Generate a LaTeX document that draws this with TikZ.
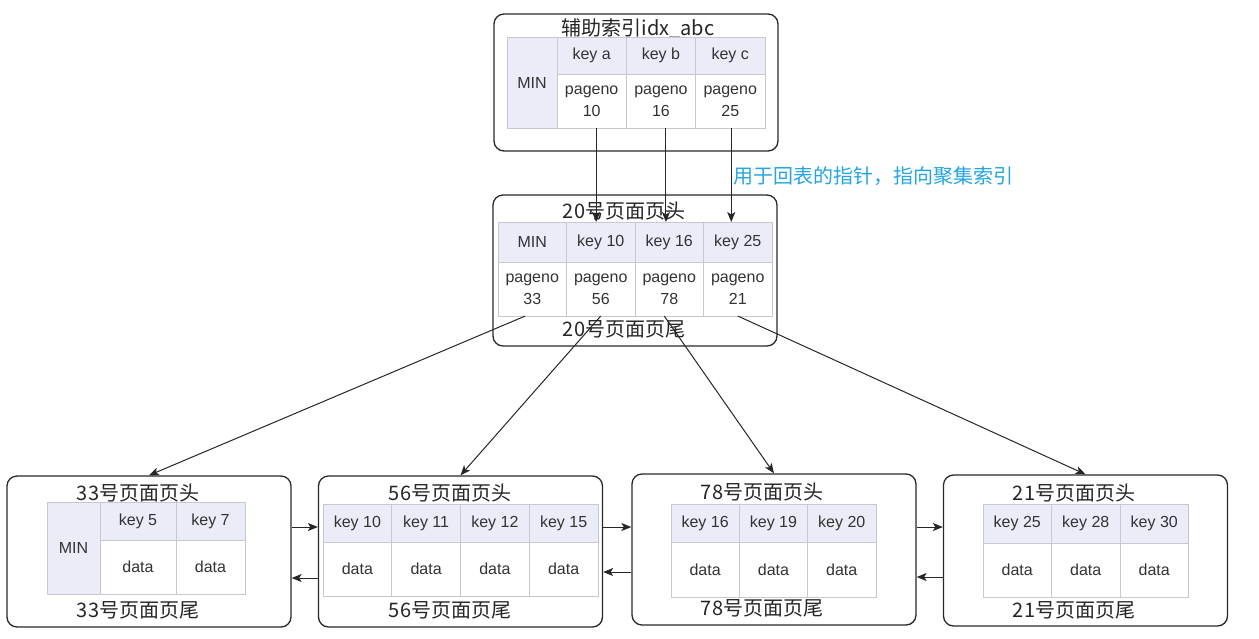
\documentclass[tikz,border=0pt]{standalone}
\usepackage{fontspec}
\setmainfont{Liberation Sans}
\newfontfamily\cjk{Noto Sans CJK SC}
\usetikzlibrary{positioning, arrows.meta}

\definecolor{cellhead}{RGB}{234,236,248}
\definecolor{cellline}{RGB}{200,200,206}
\definecolor{celltext}{RGB}{51,51,51}
\definecolor{framecol}{RGB}{40,40,40}
\definecolor{notecol}{RGB}{36,165,225}

\begin{document}
\begin{tikzpicture}[x=1pt, y=-1pt,
    pagebox/.style={draw=framecol, line width=1.3pt, rounded corners=10pt,
      minimum width=284pt, minimum height=151pt, inner sep=0pt},
    pagetitle/.style={font=\cjk\fontsize{20}{24}\selectfont, text=black!85, inner sep=0pt},
    cell/.style={draw=cellline, line width=0.8pt, inner sep=0pt, outer sep=0pt,
      minimum width=68.5pt, align=center, text=celltext, font=\fontsize{16}{22}\selectfont},
    keycell/.style={cell, fill=cellhead, minimum height=38pt},
    valcell/.style={cell, fill=white, minimum height=54pt},
    mincell/.style={cell, fill=cellhead, minimum width=53pt, minimum height=92pt},
    link/.style={-{Stealth[length=10pt, width=8pt, inset=2.5pt]}, line width=1pt, draw=black!85}]
  \useasboundingbox (0,0) rectangle (1259,638);

  % secondary index page
  \node[pagebox, minimum height=137pt] (sec) at (636,82.5) {};
  \node[pagetitle] (sechead) at (638,28) {辅助索引idx\_abc};
  \node[mincell, minimum width=50pt, minimum height=91pt, anchor=north west] (smin) at (507,37) {MIN};
  \node[keycell, minimum width=69.3pt, minimum height=37pt, anchor=north west] (ska) at (smin.north east) {key a};
  \node[keycell, minimum width=69.3pt, minimum height=37pt, right=0pt of ska] (skb) {key b};
  \node[keycell, minimum width=69.3pt, minimum height=37pt, right=0pt of skb] (skc) {key c};
  \node[valcell, minimum width=69.3pt, below=0pt of ska] (spa) {pageno\\10};
  \node[valcell, minimum width=69.3pt, below=0pt of skb] (spb) {pageno\\16};
  \node[valcell, minimum width=69.3pt, below=0pt of skc] (spc) {pageno\\25};

  % root page 20
  \node[pagebox] (root) at (635,270.5) {};
  \node[pagetitle] (roothead) at (624,211) {20号页面页头};
  \node[keycell, minimum height=40pt, anchor=north west] (rmin) at (498,222) {MIN};
  \node[keycell, minimum height=40pt, right=0pt of rmin] (rk10) {key 10};
  \node[keycell, minimum height=40pt, right=0pt of rk10] (rk16) {key 16};
  \node[keycell, minimum height=40pt, right=0pt of rk16] (rk25) {key 25};
  \node[valcell, below=0pt of rmin] (rp33) {pageno\\33};
  \node[valcell, below=0pt of rk10] (rp56) {pageno\\56};
  \node[valcell, below=0pt of rk16] (rp78) {pageno\\78};
  \node[valcell, below=0pt of rk25] (rp21) {pageno\\21};
  \node[pagetitle] (rootfoot) at (624,329) {20号页面页尾};

  \node[font=\cjk\fontsize{20}{24}\selectfont, text=notecol, anchor=west, inner sep=0pt] (note)
    at (733,176) {用于回表的指针，指向聚集索引};

  % leaf page 33
  \node[pagebox] (pg33) at (149,551.5) {};
  \node[pagetitle] (pg33head) at (138,493) {33号页面页头};
  \node[mincell, anchor=north west] (l33min) at (47,502) {MIN};
  \node[keycell, minimum width=76pt, anchor=north west] (l33k5) at (l33min.north east) {key 5};
  \node[keycell, minimum width=69pt, right=0pt of l33k5] (l33k7) {key 7};
  \node[valcell, minimum width=76pt, below=0pt of l33k5] (l33d5) {data};
  \node[valcell, minimum width=69pt, below=0pt of l33k7] (l33d7) {data};
  \node[pagetitle] (pg33foot) at (138,610) {33号页面页尾};

  % leaf page 56
  \node[pagebox] (pg56) at (460.5,551.5) {};
  \node[pagetitle] (pg56head) at (450,493) {56号页面页头};
  \node[keycell, minimum width=68.75pt, anchor=north west] (l56k10) at (323,504) {key 10};
  \node[keycell, minimum width=68.75pt, right=0pt of l56k10] (l56k11) {key 11};
  \node[keycell, minimum width=68.75pt, right=0pt of l56k11] (l56k12) {key 12};
  \node[keycell, minimum width=68.75pt, right=0pt of l56k12] (l56k15) {key 15};
  \node[valcell, minimum width=68.75pt, below=0pt of l56k10] (l56d10) {data};
  \node[valcell, minimum width=68.75pt, below=0pt of l56k11] (l56d11) {data};
  \node[valcell, minimum width=68.75pt, below=0pt of l56k12] (l56d12) {data};
  \node[valcell, minimum width=68.75pt, below=0pt of l56k15] (l56d15) {data};
  \node[pagetitle] (pg56foot) at (450,610) {56号页面页尾};

  % leaf page 78
  \node[pagebox] (pg78) at (774,549.5) {};
  \node[pagetitle] (pg78head) at (762,492) {78号页面页头};
  \node[keycell, minimum width=68.3pt, anchor=north west] (l78k16) at (671,504) {key 16};
  \node[keycell, minimum width=68.3pt, right=0pt of l78k16] (l78k19) {key 19};
  \node[keycell, minimum width=68.3pt, right=0pt of l78k19] (l78k20) {key 20};
  \node[valcell, minimum width=68.3pt, minimum height=55pt, below=0pt of l78k16] (l78d16) {data};
  \node[valcell, minimum width=68.3pt, minimum height=55pt, below=0pt of l78k19] (l78d19) {data};
  \node[valcell, minimum width=68.3pt, minimum height=55pt, below=0pt of l78k20] (l78d20) {data};
  \node[pagetitle] (pg78foot) at (762,608) {78号页面页尾};

  % leaf page 21
  \node[pagebox] (pg21) at (1085.5,550.5) {};
  \node[pagetitle] (pg21head) at (1074,493) {21号页面页头};
  \node[keycell, minimum height=39pt, anchor=north west] (l21k25) at (983,504) {key 25};
  \node[keycell, minimum height=39pt, right=0pt of l21k25] (l21k28) {key 28};
  \node[keycell, minimum height=39pt, right=0pt of l21k28] (l21k30) {key 30};
  \node[valcell, below=0pt of l21k25] (l21d25) {data};
  \node[valcell, below=0pt of l21k28] (l21d28) {data};
  \node[valcell, below=0pt of l21k30] (l21d30) {data};
  \node[pagetitle] (pg21foot) at (1074,610) {21号页面页尾};

  % pointers back to the clustered index
  \draw[link] ([xshift=4.5pt]spa.south) -- ([xshift=4.5pt]spa.south |- rk10.north);
  \draw[link] ([xshift=5pt]spb.south) -- ([xshift=5pt]spb.south |- rk16.north);
  \draw[link] ([xshift=1pt]spc.south) -- ([xshift=1pt]spc.south |- rk25.north);

  % root to leaves
  \draw[link] ([xshift=-7pt]rp33.south) -- (pg33.north);
  \draw[link] (rp56.south) -- (pg56.north);
  \draw[link] ([xshift=-5pt]rp78.south) -- (pg78.north);
  \draw[link] (rp21.south) -- (pg21.north);

  % leaf list
  \draw[link] ([yshift=24.5pt]pg33.east) -- ([yshift=24.5pt]pg33.east -| pg56.west);
  \draw[link] ([yshift=-26.5pt]pg56.west) -- ([yshift=-26.5pt]pg56.west -| pg33.east);
  \draw[link] ([yshift=24.5pt]pg56.east) -- ([yshift=24.5pt]pg56.east -| pg78.west);
  \draw[link] ([yshift=-22.5pt]pg78.west) -- ([yshift=-22.5pt]pg78.west -| pg56.east);
  \draw[link] ([yshift=22.5pt]pg78.east) -- ([yshift=22.5pt]pg78.east -| pg21.west);
  \draw[link] ([yshift=-26.5pt]pg21.west) -- ([yshift=-26.5pt]pg21.west -| pg78.east);
\end{tikzpicture}
\end{document}
